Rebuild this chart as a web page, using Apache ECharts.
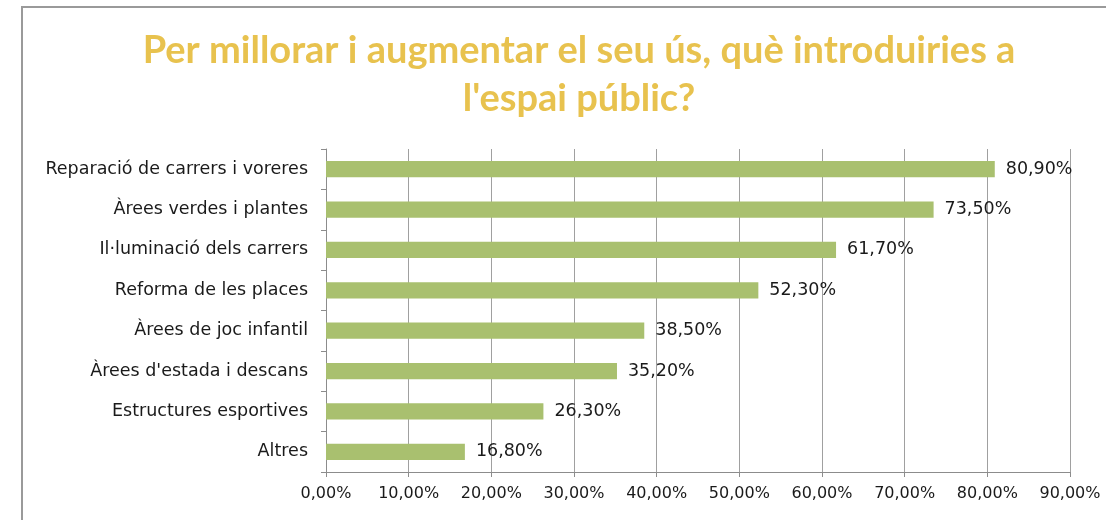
<!DOCTYPE html>
<html>
<head>
<meta charset="utf-8">
<title>espai públic</title>
<script src="https://cdn.jsdelivr.net/npm/echarts@6/dist/echarts.min.js"></script>
<style>
  html, body { margin: 0; padding: 0; background: #fff; }
  #chart { width: 1106px; height: 520px; }
</style>
</head>
<body>
<div id="chart"></div>
<script>
// dades de l'enquesta
var categories = [
    'Reparació de carrers i voreres',
    'Àrees verdes i plantes',
    'Il·luminació dels carrers',
    'Reforma de les places',
    'Àrees de joc infantil',
    "Àrees d'estada i descans",
    'Estructures esportives',
    'Altres'
];
var percents = [80.9, 73.5, 61.7, 52.3, 38.5, 35.2, 26.3, 16.8];
var xTicks = [0, 10, 20, 30, 40, 50, 60, 70, 80, 90];

var titleLines = ['Per millorar i augmentar el seu ús, què introduiries a', "l'espai públic?"];

function fmt(v) {
    return v.toFixed(2).replace('.', ',') + '%';
}

var myChart = echarts.init(document.getElementById('chart'));

var option = {
    backgroundColor: '#fff',
    animation: false,
    title: {
        text: titleLines.join('\n'),
        left: 574,
        top: 22,
        textAlign: 'center',
        textStyle: {
            fontFamily: 'Lato',
            fontWeight: 'bold',
            fontSize: 38,
            lineHeight: 48,
            color: '#E8C24E'
        }
    },
    // marc del gràfic
    graphic: [{
        type: 'rect',
        shape: { x: 22, y: 7, width: 1200, height: 600 },
        style: { fill: 'none', stroke: '#9a9a9a', lineWidth: 2 },
        silent: true
    }],
    grid: {
        left: 326,
        right: 36,
        top: 149,
        bottom: 48
    },
    xAxis: {
        type: 'value',
        min: xTicks[0],
        max: xTicks[xTicks.length - 1],
        interval: 10,
        axisLine: { show: true, lineStyle: { color: '#8c8c8c', width: 1 } },
        axisTick: { show: true, length: 5, lineStyle: { color: '#8c8c8c' } },
        splitLine: { show: true, lineStyle: { color: '#a0a0a0', width: 1 } },
        axisLabel: {
            margin: 14,
            formatter: fmt,
            fontFamily: 'DejaVu Sans',
            fontSize: 16,
            color: '#1a1a1a'
        }
    },
    yAxis: {
        type: 'category',
        inverse: true,
        data: categories,
        axisLine: { show: true, lineStyle: { color: '#8c8c8c', width: 1 } },
        axisTick: { show: true, length: 5, alignWithLabel: false, lineStyle: { color: '#8c8c8c' } },
        axisLabel: {
            margin: 18,
            fontFamily: 'DejaVu Sans',
            fontSize: 17.5,
            color: '#1a1a1a'
        }
    },
    series: [{
        type: 'bar',
        data: percents,
        barCategoryGap: '60%',
        itemStyle: { color: '#A9C06F' },
        label: {
            show: true,
            position: 'right',
            distance: 11,
            formatter: function(p) { return fmt(p.value); },
            fontFamily: 'DejaVu Sans',
            fontSize: 17.5,
            color: '#1a1a1a'
        }
    }]
};

myChart.setOption(option);
</script>
</body>
</html>
